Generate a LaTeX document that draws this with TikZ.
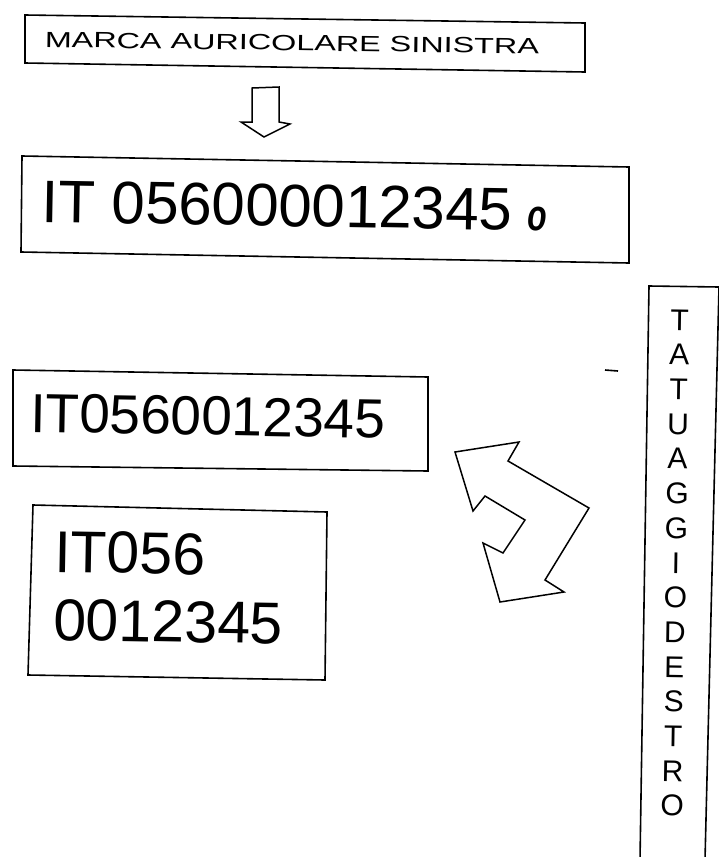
\documentclass[tikz,border=0pt]{standalone}
\usepackage{fontspec}
\setmainfont{Liberation Sans}
\usepackage{graphicx}
\begin{document}
\begin{tikzpicture}[x=1pt,y=-1pt,
  box/.style={draw=black, line width=1.6pt, line join=miter},
  arrowshape/.style={draw=black, line width=1.5pt, line join=miter, fill=white},
  txt/.style={inner sep=0pt, anchor=base west}]
\useasboundingbox (0,0) rectangle (719,857);
\fill[white] (0,0) rectangle (719,857);
\begin{scope}
\clip (0,0) rectangle (719,857);
% box 1
\draw[box] (25,15) -- (585,23) -- (585,72) -- (25,63) -- cycle;
\node[txt, rotate=-0.8, font=\fontsize{22}{22}\selectfont] (marca) at (44.6,47)
  {\scalebox{1.47}[1]{MARCA AURICOLARE SINISTRA}};
% down arrow
\draw[arrowshape] (252,88) -- (279,87) -- (279,122) -- (290,124) -- (264,137) -- (241,122) -- (252,122) -- cycle;
% box 2
\draw[box] (22,156) -- (629,167) -- (629,263) -- (21,252) -- cycle;
\node[txt, rotate=-1, font=\fontsize{60}{60}\selectfont] (code1) at (41.5,222) {IT 056000012345};
\node[txt, rotate=-1, font=\fontsize{44}{44}\selectfont\bfseries\itshape] (suffix) at (527,230) {\scalebox{0.72}[1]{o}};
% box 3
\draw[box] (13,370) -- (428,377) -- (428,471) -- (13,466) -- cycle;
\node[txt, rotate=-1, font=\fontsize{55}{55}\selectfont] (code2) at (30,432) {IT0560012345};
% box 4
\draw[box] (33,505) -- (327,512) -- (325,680) -- (28,675) -- cycle;
\node[txt, rotate=-1, align=left, font=\fontsize{59}{68}\selectfont] (code3) at (53,640) {IT056\\0012345};
% double arrow
\draw[arrowshape] (455,452) -- (519,442) -- (508,461) -- (589,508) -- (545,580) -- (564,592)
  -- (500,602) -- (483,543) -- (503,553) -- (525,520) -- (485,496) -- (473,511) -- cycle;
% stray dash
\draw[line width=1.6pt] (605,370) -- (618,371);
% vertical box
\draw[box] (640,860) -- (649,286) -- (719,287) -- (705,860);
\node[rotate=-0.9, align=center, inner sep=0pt, font=\fontsize{30}{34.7}\selectfont] (tatuaggio) at (676,563)
  {T\\A\\T\\U\\A\\G\\G\\I\\O\\D\\E\\S\\T\\R\\O};
\end{scope}
\end{tikzpicture}
\end{document}
